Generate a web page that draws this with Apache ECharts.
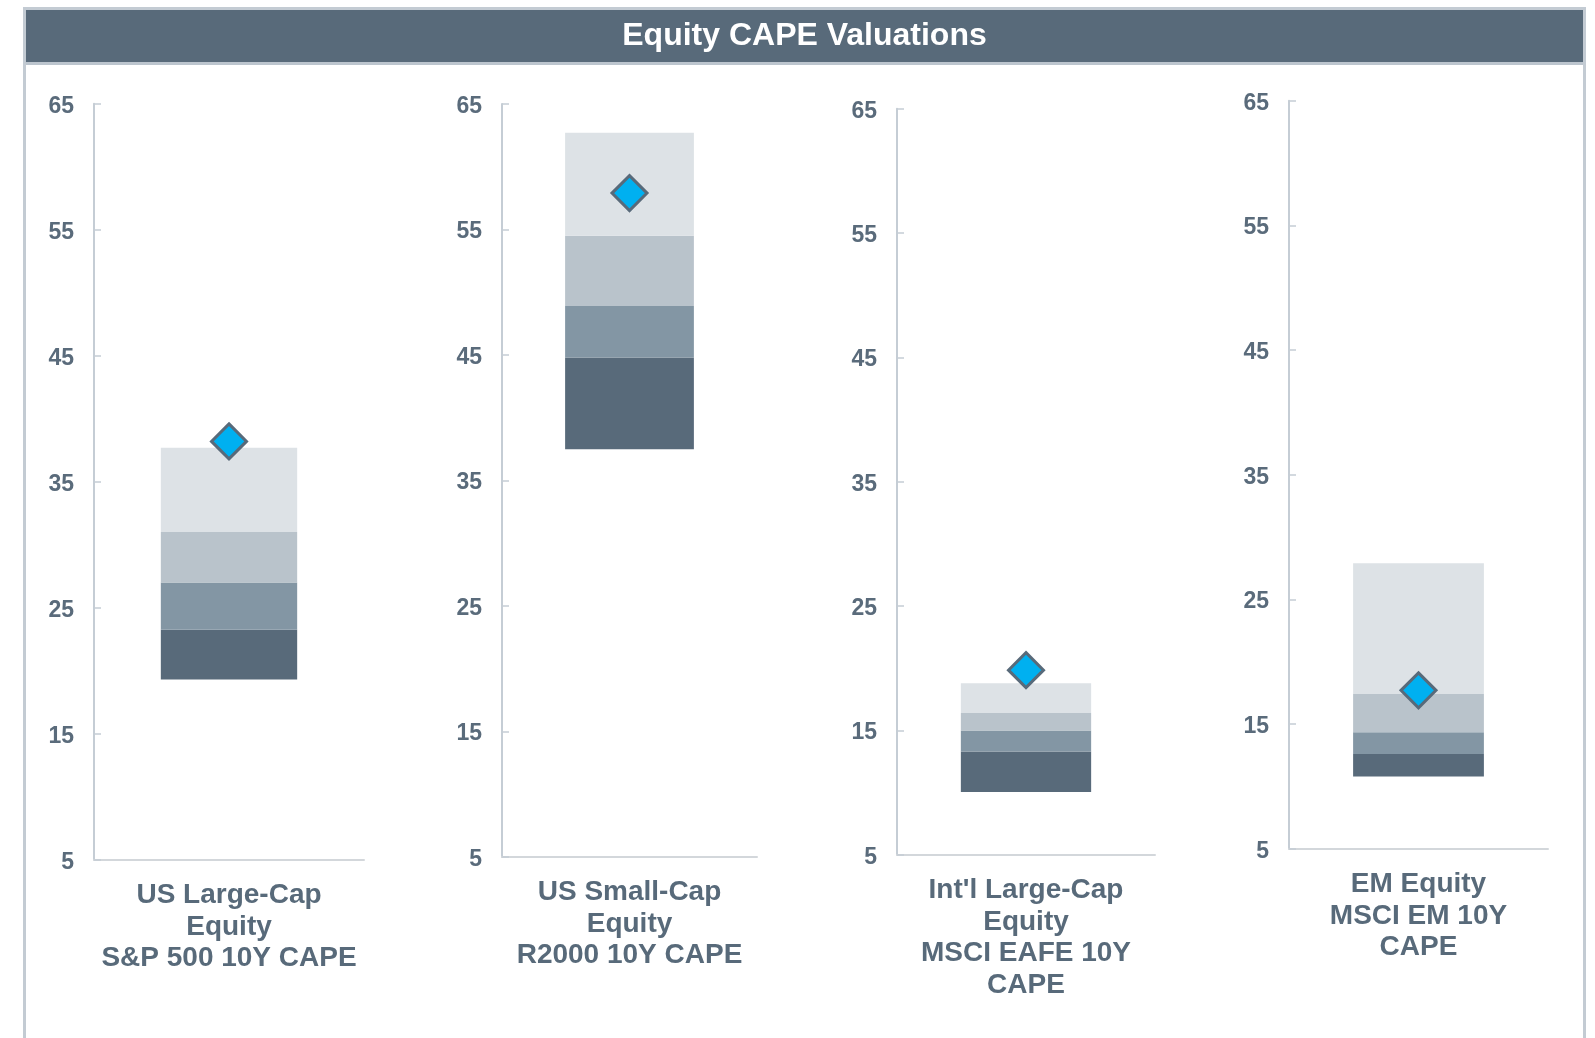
<!DOCTYPE html>
<html>
<head>
<meta charset="utf-8">
<script src="https://cdn.jsdelivr.net/npm/echarts@6/dist/echarts.min.js"></script>
<style>
html,body{margin:0;padding:0;background:#ffffff;}
#chart{width:1595px;height:1038px;}
</style>
</head>
<body>
<div id="chart"></div>
<script>
// ---- data ----
const categories = [
  'US Large-Cap\nEquity\nS&P 500 10Y CAPE',
  'US Small-Cap\nEquity\nR2000 10Y CAPE',
  "Int'l Large-Cap\nEquity\nMSCI EAFE 10Y\nCAPE",
  'EM Equity\nMSCI EM 10Y\nCAPE'
];
const minVals     = [19.3, 37.5, 10.05, 10.8];
const q1Vals      = [23.25, 44.8, 13.3, 12.6];
const q2Vals      = [27.0, 48.9, 15.0, 14.35];
const q3Vals      = [31.0, 54.5, 16.4, 17.4];
const maxVals     = [37.7, 62.7, 18.8, 27.9];
const currentVals = [38.2, 57.9, 19.85, 17.7];
const yTicks = [5, 15, 25, 35, 45, 55, 65];
const titleText = 'Equity CAPE Valuations';

// ---- layout / style ----
const FONT = '"Liberation Sans", Arial, sans-serif';
const TEXT = '#586a7a';
const gridBoxes = [
  {left: 94,   top: 103.7, width: 270, height: 756},
  {left: 502,  top: 104,   width: 255, height: 753},
  {left: 897,  top: 108.8, width: 258, height: 746},
  {left: 1289, top: 100.7, width: 259, height: 748}
];
const segColors = ['#586a7a', '#8396a4', '#b9c3cb', '#dde2e6'];

const grids = [], xAxes = [], yAxes = [], series = [];
for (let i = 0; i < 4; i++) {
  grids.push(Object.assign({containLabel: false}, gridBoxes[i]));
  xAxes.push({
    type: 'category', gridIndex: i, data: [categories[i]],
    axisLine: {show: true, lineStyle: {color: '#d3d7db', width: 2}},
    axisTick: {show: false},
    axisLabel: {
      color: TEXT, fontFamily: FONT, fontWeight: 'bold', fontSize: 28,
      lineHeight: 31.5, margin: 20, align: 'center', interval: 0
    }
  });
  yAxes.push({
    type: 'value', gridIndex: i, min: 5, max: 65,
    axisLine: {show: true, lineStyle: {color: '#c5cdd5', width: 2}},
    axisTick: {show: true, inside: true, length: 7, customValues: yTicks,
      lineStyle: {color: '#c5cdd5', width: 1.5}},
    splitLine: {show: false},
    axisLabel: {
      margin: 20, customValues: yTicks,
      formatter: '{t|{value}}',
      rich: {t: {color: '#5a6b7b', fontFamily: FONT, fontWeight: 'bold', fontSize: 23,
        padding: [5, 0, 0, 0]}}
    }
  });
  const bounds = [minVals[i], q1Vals[i], q2Vals[i], q3Vals[i], maxVals[i]];
  series.push({
    type: 'bar', xAxisIndex: i, yAxisIndex: i, stack: 's' + i, barWidth: '50.5%',
    data: [minVals[i]], itemStyle: {color: 'rgba(0,0,0,0)'}, silent: true
  });
  for (let k = 0; k < 4; k++) {
    series.push({
      type: 'bar', xAxisIndex: i, yAxisIndex: i, stack: 's' + i, barWidth: '50.5%',
      data: [+(bounds[k + 1] - bounds[k]).toFixed(4)],
      itemStyle: {color: segColors[k]}, silent: true
    });
  }
  series.push({
    type: 'scatter', xAxisIndex: i, yAxisIndex: i, z: 5,
    symbol: 'diamond', symbolSize: 35,
    data: [[0, currentVals[i]]],
    itemStyle: {color: '#00b0f0', borderColor: '#586a7a', borderWidth: 3, opacity: 1},
    silent: true
  });
}

const chart = echarts.init(document.getElementById('chart'), null, {renderer: 'canvas'});
chart.setOption({
  animation: false,
  backgroundColor: '#ffffff',
  grid: grids, xAxis: xAxes, yAxis: yAxes, series: series,
  graphic: [
    {type: 'rect', shape: {x: 24.5, y: 8.5, width: 1560, height: 1040},
      style: {fill: 'none', stroke: '#c3cbd3', lineWidth: 3}, silent: true},
    {type: 'rect', shape: {x: 26, y: 10, width: 1557, height: 52},
      style: {fill: '#586a7a'}, silent: true},
    {type: 'rect', shape: {x: 26, y: 62, width: 1557, height: 3},
      style: {fill: '#bcc5ce'}, silent: true},
    {type: 'text', x: 804.5, y: 36,
      style: {text: titleText, fill: '#ffffff', font: 'bold 32px ' + FONT,
        textAlign: 'center', textVerticalAlign: 'middle'}, silent: true}
  ]
});
</script>
</body>
</html>
